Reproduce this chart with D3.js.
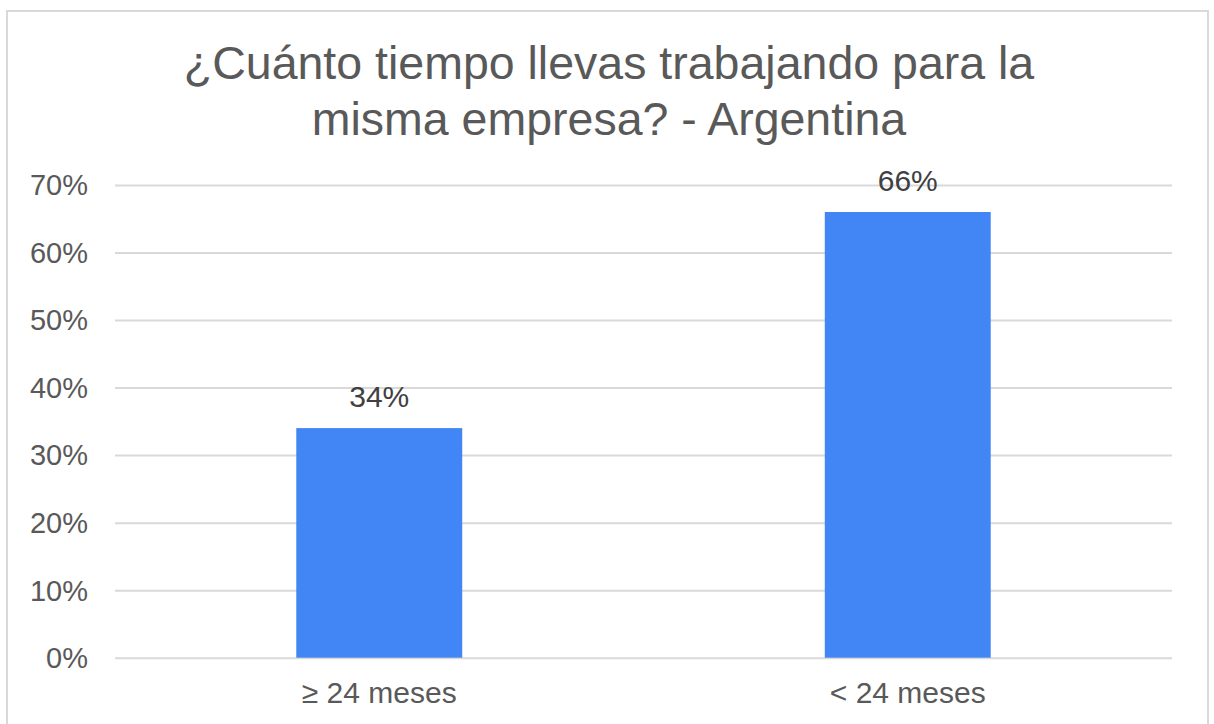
<!DOCTYPE html>
<html>
<head>
<meta charset="utf-8">
<script src="https://cdn.jsdelivr.net/npm/d3@7"></script>
<style>
  html, body { margin: 0; padding: 0; background: #fff; }
  svg { display: block; font-family: "Liberation Sans", Arial, sans-serif; }
</style>
</head>
<body>
<svg id="chart" width="1214" height="724"></svg>
<script>
const titleLines = ["¿Cuánto tiempo llevas trabajando para la", "misma empresa? - Argentina"];
const categories = ["≥ 24 meses", "< 24 meses"];
const values = [0.34, 0.66];
const dataLabels = ["34%", "66%"];
const yTicks = [0, 0.1, 0.2, 0.3, 0.4, 0.5, 0.6, 0.7];
const yTickLabels = ["0%", "10%", "20%", "30%", "40%", "50%", "60%", "70%"];

const W = 1214, H = 724;
const svg = d3.select("#chart");

// outer border
svg.append("rect")
  .attr("x", 7).attr("y", 11)
  .attr("width", 1201).attr("height", 740)
  .attr("fill", "#fff")
  .attr("stroke", "#d9d9d9").attr("stroke-width", 2);

// title
svg.append("g").selectAll("text").data(titleLines).join("text")
  .attr("x", 609)
  .attr("y", (d, i) => 79 + i * 56)
  .attr("text-anchor", "middle")
  .attr("font-size", 46.5)
  .attr("fill", "#595959")
  .text(d => d);

const plotLeft = 115, plotRight = 1172, plotTop = 185, plotBottom = 657.7;

const y = d3.scaleLinear().domain([0, 0.7]).range([plotBottom, plotTop]);
const x = d3.scaleBand().domain(categories).range([plotLeft, plotRight]).padding(0);

// gridlines via axis
const yAxis = d3.axisLeft(y).tickValues(yTicks)
  .tickSize(-(plotRight - plotLeft))
  .tickFormat((d, i) => yTickLabels[i]);
const gy = svg.append("g").attr("transform", `translate(${plotLeft},0)`).call(yAxis);
gy.select(".domain").remove();
gy.selectAll(".tick line").attr("stroke", "#d9d9d9").attr("stroke-width", 2);
gy.selectAll(".tick text")
  .attr("x", -27)
  .attr("dy", "0.34em")
  .attr("font-size", 29)
  .attr("font-family", "Liberation Sans, Arial, sans-serif")
  .attr("fill", "#595959");

// bars
const barFrac = 0.314;
const bw = x.bandwidth() * barFrac;
svg.append("g").selectAll("rect").data(values).join("rect")
  .attr("x", (d, i) => x(categories[i]) + (x.bandwidth() - bw) / 2)
  .attr("y", d => y(d))
  .attr("width", bw)
  .attr("height", d => y(0) - y(d))
  .attr("fill", "#4285f4");

// data labels
svg.append("g").selectAll("text").data(values).join("text")
  .attr("x", (d, i) => x(categories[i]) + x.bandwidth() / 2)
  .attr("y", d => y(d) - 21)
  .attr("text-anchor", "middle")
  .attr("font-size", 30)
  .attr("fill", "#404040")
  .text((d, i) => dataLabels[i]);

// category axis labels
const xAxis = d3.axisBottom(x).tickSize(0).tickPadding(0);
const gx = svg.append("g").attr("transform", `translate(0,${plotBottom})`).call(xAxis);
gx.select(".domain").remove();
gx.selectAll(".tick text")
  .attr("y", 45).attr("dy", 0)
  .attr("font-size", 30)
  .attr("font-family", "Liberation Sans, Arial, sans-serif")
  .attr("fill", "#595959");
</script>
</body>
</html>
